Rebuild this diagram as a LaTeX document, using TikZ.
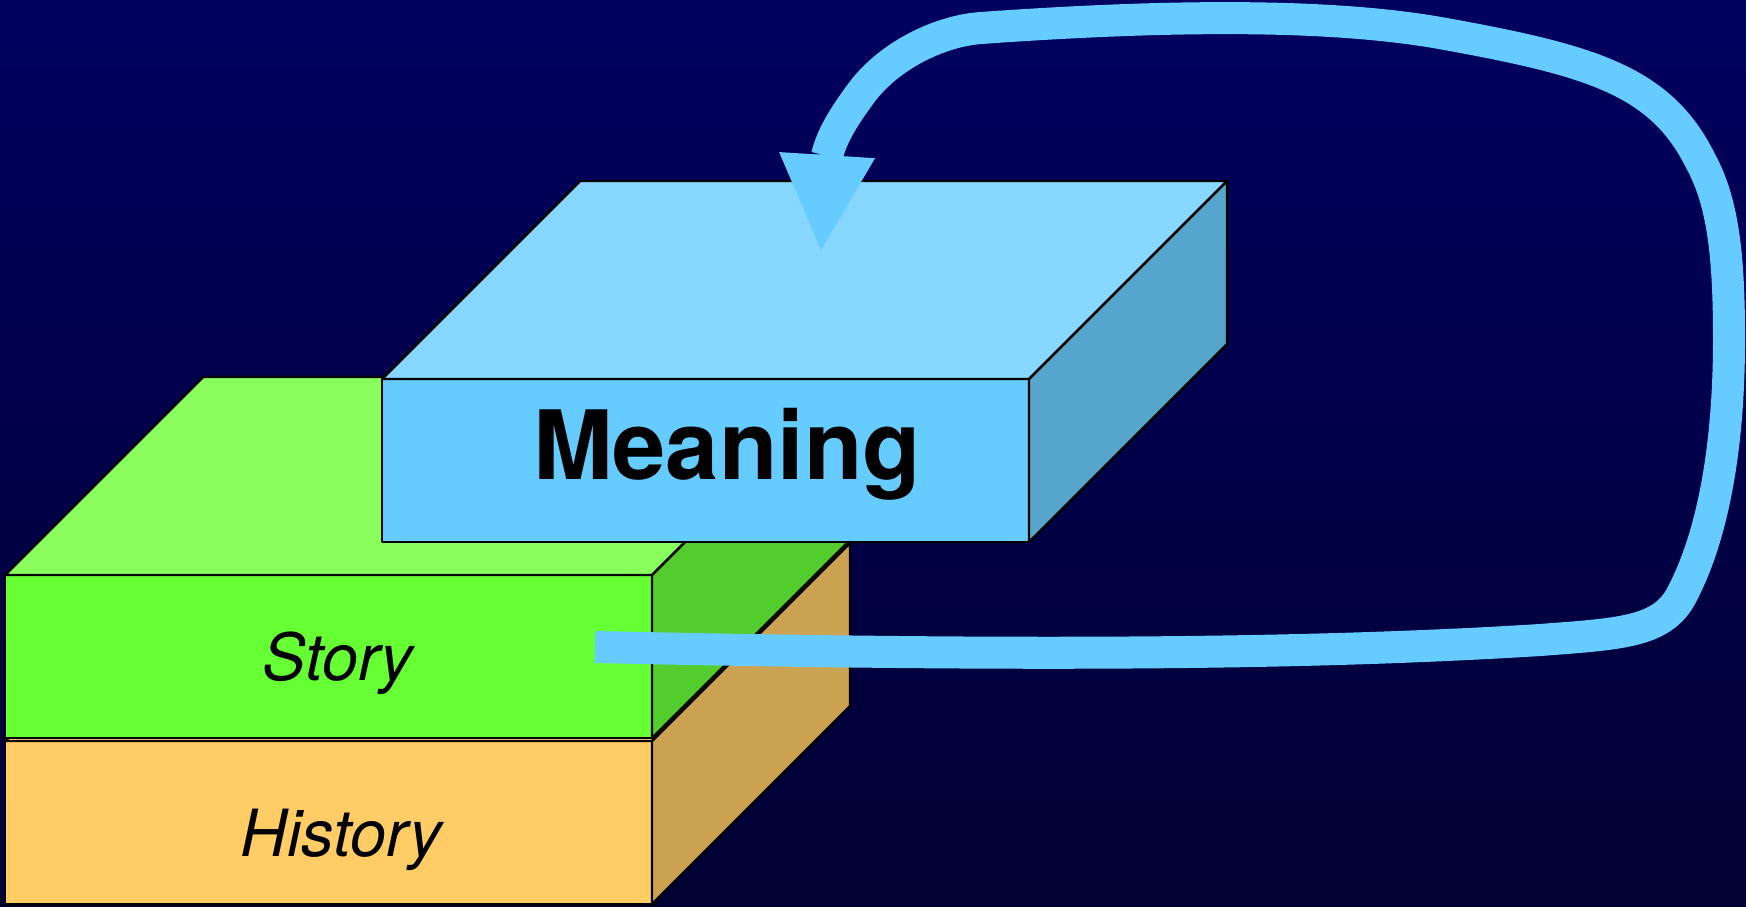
\documentclass[tikz,border=0pt]{standalone}
\usepackage{fontspec}
\setmainfont{TeX Gyre Heros}
\usetikzlibrary{arrows.meta}
\definecolor{bgtop}{HTML}{000060}
\definecolor{bgmid}{HTML}{00005C}
\definecolor{bgbot}{HTML}{000032}
\definecolor{meanfront}{HTML}{66CCFF}
\definecolor{meantop}{HTML}{87D6FF}
\definecolor{meanside}{HTML}{55A5CC}
\definecolor{storyfront}{HTML}{66FF33}
\definecolor{storytop}{HTML}{88FF5C}
\definecolor{storyside}{HTML}{55CC2D}
\definecolor{histfront}{HTML}{FFCC66}
\definecolor{histtop}{HTML}{FFD985}
\definecolor{histside}{HTML}{CCA352}
\definecolor{flowblue}{HTML}{66CCFF}
\begin{document}
\begin{tikzpicture}[x=0.01cm, y=-0.01cm, line join=round,
  face/.style={draw=black, line width=0.7pt},
  slabtext/.style={anchor=base, text=black, inner sep=0pt},
  flow/.style={draw=flowblue, line width=0.32cm, line cap=butt,
    -{Triangle[width=0.96cm, length=0.95cm, line width=0pt]}}]
\useasboundingbox (0,0) rectangle (1746,906);
\shade[top color=bgtop, middle color=bgmid, bottom color=bgbot] (0,0) rectangle (1746,906);
% the three slabs: history, story, meaning
\foreach \x/\y/\fr/\tp/\sd in {5/741/histfront/histtop/histside,
    5/575/storyfront/storytop/storyside,
    382/379/meanfront/meantop/meanside} {
  \filldraw[face, fill=\fr] (\x,\y) rectangle ++(647,163);
  \filldraw[face, fill=\tp] (\x,\y) -- ++(198,-198) -- ++(647,0) -- ++(-198,198) -- cycle;
  \filldraw[face, fill=\sd] (\x+647,\y) -- ++(198,-198) -- ++(0,163) -- ++(-198,198) -- cycle;
}
\node[slabtext, font=\fontsize{18.5}{22}\selectfont\itshape] (history) at (341,856) {History};
\node[slabtext, font=\fontsize{18.5}{22}\selectfont\itshape] (story) at (338,680) {Story};
\node[slabtext, font=\fontsize{27.2}{33}\selectfont\bfseries] (meaning) at (727,479) {Meaning};
% feedback arrow
\coordinate (tail) at (595,647);
\coordinate (tip) at (821,250);
\draw[flow] (tail)
  .. controls (1000,656) and (1300,655) .. (1540,640)
  .. controls (1620,634) and (1660,632) .. (1680,598)
  .. controls (1702,558) and (1729,480) .. (1729,339)
  .. controls (1729,250) and (1722,200) .. (1700,160)
  .. controls (1660,80) and (1590,60) .. (1440,33)
  .. controls (1320,12) and (1150,16) .. (981,28)
  .. controls (940,31) and (890,55) .. (862,92)
  .. controls (845,115) and (832,135) .. (827,156)
  -- (tip);
\end{tikzpicture}
\end{document}
